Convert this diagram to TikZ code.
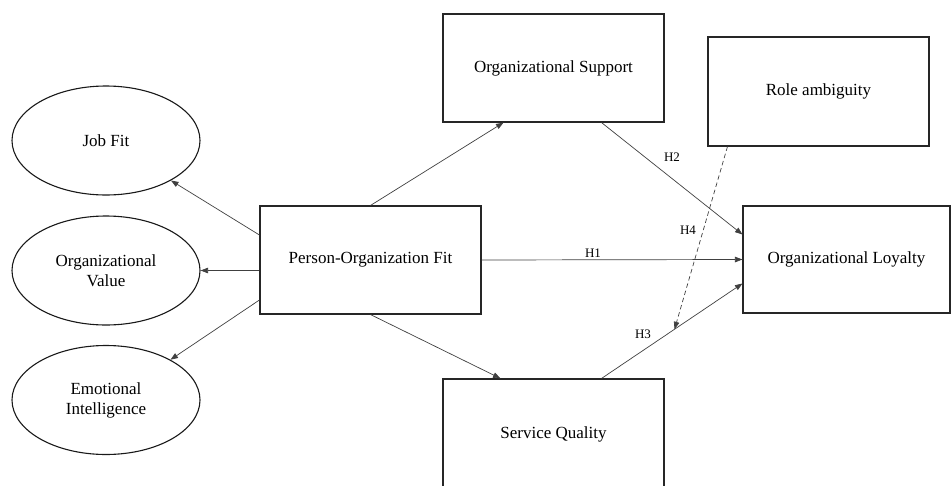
\documentclass[tikz,border=0pt]{standalone}
\usepackage{fontspec}
\setmainfont{Liberation Serif}
\usetikzlibrary{arrows.meta,shapes.geometric}
\begin{document}
\begin{tikzpicture}[x=1pt,y=-1pt,
  box/.style={draw=black!85,line width=1.1pt,rectangle,minimum width=221pt,minimum height=108pt,inner sep=0pt,font=\fontsize{17}{20}\selectfont,align=center},
  oval/.style={draw=black!90,line width=1.1pt,ellipse,minimum width=188pt,minimum height=109pt,inner sep=0pt,font=\fontsize{17}{20}\selectfont,align=center},
  arr/.style={draw=black!75,line width=0.7pt,-{Triangle[length=7.5pt,width=5.5pt]}},
  darr/.style={arr,dashed,dash pattern=on 4.5pt off 3pt},
  hlab/.style={font=\fontsize{13}{15}\selectfont,inner sep=0pt}]
\useasboundingbox (0,0) rectangle (951,485);
\clip (0,0) rectangle (951,485);
% ellipses
\node[oval] (jf) at (106,140.5) {Job Fit};
\node[oval] (ov) at (106,270.5) {Organizational\\Value};
\node[oval] (ei) at (106,400) {Emotional\\Intelligence};
% boxes
\node[box] (po) at (370.5,260) {Person-Organization Fit};
\node[box] (os) at (553.5,68) {Organizational Support};
\node[box,minimum height=109pt] (ra) at (818.5,91.5) {Role ambiguity};
\node[box,minimum width=207pt,minimum height=107pt] (ol) at (846.5,259.5) {Organizational Loyalty};
\node[box,minimum height=110pt] (sq) at (553.5,434) {Service Quality};
% arrows from P-O Fit
\draw[arr] ([yshift=25pt]po.west) -- (jf);
\draw[arr] (po.west |- ov.east) -- (ov.east);
\draw[arr] ([yshift=-40pt]po.west) -- (ei.32);
\draw[arr] (po.north) -- ([xshift=-50pt]os.south);
\draw[arr] (po.south) -- ([xshift=-53pt]sq.north);
% hypotheses
\draw[arr] (po.east) -- (ol.west);
\draw[arr] ([xshift=48pt]os.south) -- ([yshift=25pt]ol.west);
\draw[arr] ([xshift=48pt]sq.north) -- coordinate[pos=0.518] (h4e) ([yshift=-24pt]ol.west);
\draw[darr] ([xshift=-91pt]ra.south) -- (h4e);
% labels
\node[hlab] (h1) at (593,253) {H1};
\node[hlab] (h2) at (672,157) {H2};
\node[hlab] (h3) at (643,334) {H3};
\node[hlab] (h4) at (688,230) {H4};
\end{tikzpicture}
\end{document}
